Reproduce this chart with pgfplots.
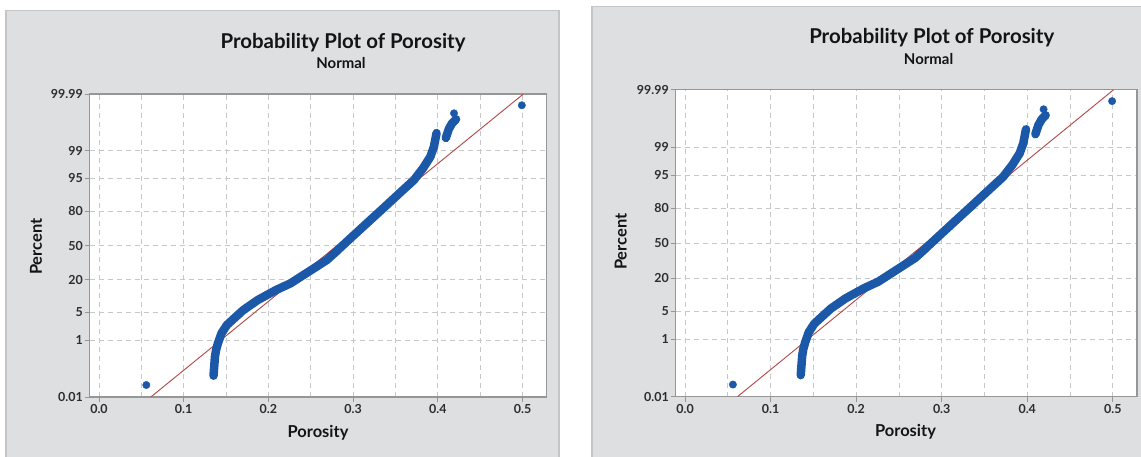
\documentclass[border=0pt]{standalone}
\usepackage{pgfplots}
\pgfplotsset{compat=1.18}
\usepackage{pgfplotstable}
\usepackage{fontspec}
\setmainfont{Lato}
\definecolor{panelgray}{RGB}{222,223,225}
\definecolor{panelborder}{RGB}{196,197,199}
\definecolor{dotblue}{RGB}{28,88,168}
\definecolor{fitred}{RGB}{180,70,70}
\definecolor{gridgray}{RGB}{200,200,200}
\definecolor{framegray}{RGB}{150,150,150}
\definecolor{ticktext}{RGB}{45,45,45}
\definecolor{titletext}{RGB}{20,20,20}

% main body of the probability points (x = porosity, z = normal score)
\pgfplotstableread{
x z
0.1352 -3.197
0.1360 -2.976
0.1369 -2.730
0.1382 -2.566
0.1404 -2.400
0.1446 -2.156
0.1510 -1.952
0.1596 -1.788
0.1704 -1.584
0.1875 -1.338
0.2090 -1.093
0.2261 -0.929
0.2475 -0.643
0.2690 -0.356
0.2800 -0.150
0.2861 -0.030
0.3011 0.258
0.3204 0.626
0.3376 0.953
0.3547 1.282
0.3718 1.608
0.3825 1.895
0.3912 2.180
0.3954 2.426
0.3985 2.760
}\curvea

\pgfplotstableread{
x z
0.4095 2.640
0.4130 2.860
0.4168 3.000
0.4215 3.100
}\curveb

\pgfplotsset{probstyle/.style={
  scale only axis, anchor=south west,
  xmin=-0.0112, xmax=0.5283, ymin=-3.719, ymax=3.719,
  axis background/.style={fill=white},
  xtick={0,0.1,0.2,0.3,0.4,0.5},
  xticklabels={0.0,0.1,0.2,0.3,0.4,0.5},
  minor xtick={0.05,0.15,0.25,0.35,0.45},
  ytick={-3.719,-2.326,-1.645,-0.8416,0,0.8416,1.645,2.326,3.719},
  yticklabels={0.01,1,5,20,50,80,95,99,99.99},
  grid=both,
  major grid style={gridgray, dash pattern=on 5bp off 4bp, line width=0.8bp},
  minor grid style={gridgray, dash pattern=on 5bp off 4bp, line width=0.8bp},
  tick align=outside, xtick pos=bottom, ytick pos=left,
  major tick length=5bp, minor tick length=0pt,
  tick style={framegray, line width=0.8bp},
  axis line style={framegray, line width=1.2bp},
  ticklabel style={font=\fontsize{12.5}{14}\selectfont\bfseries, text=ticktext},
  xticklabel style={inner sep=2bp},
  yticklabel style={inner sep=1.5bp},
}}

\begin{document}
\begin{tikzpicture}
\useasboundingbox (0,0) rectangle (1141bp,457bp);
\fill[white] (0,0) rectangle (1141bp,457bp);
\filldraw[fill=panelgray, draw=panelborder, line width=1.2bp] (6bp,-2bp) rectangle (559bp,446.5bp);
\filldraw[fill=panelgray, draw=panelborder, line width=1.2bp] (592bp,-2bp) rectangle (1145bp,450.3bp);

% ---------- left panel ----------
\begin{axis}[probstyle, at={(89.5bp,60bp)}, width=457bp, height=303bp]
\addplot[fitred, line width=0.9bp] coordinates {(0.0612,-3.719) (0.501,3.719)};
\addplot[dotblue, line width=8.5bp, line cap=round, line join=round] table {\curvea};
\addplot[dotblue, line width=8.5bp, line cap=round, line join=round] table {\curveb};
\addplot[only marks, mark=*, mark size=3.7bp, dotblue] coordinates {(0.0559,-3.425) (0.4992,3.442) (0.4191,3.245)};
\end{axis}
\node[anchor=base, font=\fontsize{20.5}{24}\selectfont\bfseries, text=titletext] at (343bp,408.7bp) {Probability Plot of Porosity};
\node[anchor=base, font=\fontsize{15}{18}\selectfont\bfseries, text=titletext] at (341bp,388.7bp) {Normal};
\node[font=\fontsize{16.5}{19}\selectfont\bfseries, text=titletext] at (318bp,24.7bp) {Porosity};
\node[rotate=90, font=\fontsize{16.5}{19}\selectfont\bfseries, text=titletext] at (36bp,210.3bp) {Percent};

% ---------- right panel ----------
\begin{axis}[probstyle, at={(675.5bp,60.3bp)}, width=461.5bp, height=307bp]
\addplot[fitred, line width=0.9bp] coordinates {(0.0612,-3.719) (0.501,3.719)};
\addplot[dotblue, line width=8.5bp, line cap=round, line join=round] table {\curvea};
\addplot[dotblue, line width=8.5bp, line cap=round, line join=round] table {\curveb};
\addplot[only marks, mark=*, mark size=3.7bp, dotblue] coordinates {(0.0559,-3.425) (0.4992,3.442) (0.4191,3.245)};
\end{axis}
\node[anchor=base, font=\fontsize{20.5}{24}\selectfont\bfseries, text=titletext] at (931.7bp,413.7bp) {Probability Plot of Porosity};
\node[anchor=base, font=\fontsize{15}{18}\selectfont\bfseries, text=titletext] at (928.6bp,392bp) {Normal};
\node[font=\fontsize{16.5}{19}\selectfont\bfseries, text=titletext] at (905.5bp,25bp) {Porosity};
\node[rotate=90, font=\fontsize{16.5}{19}\selectfont\bfseries, text=titletext] at (620.8bp,215.3bp) {Percent};
\end{tikzpicture}
\end{document}
